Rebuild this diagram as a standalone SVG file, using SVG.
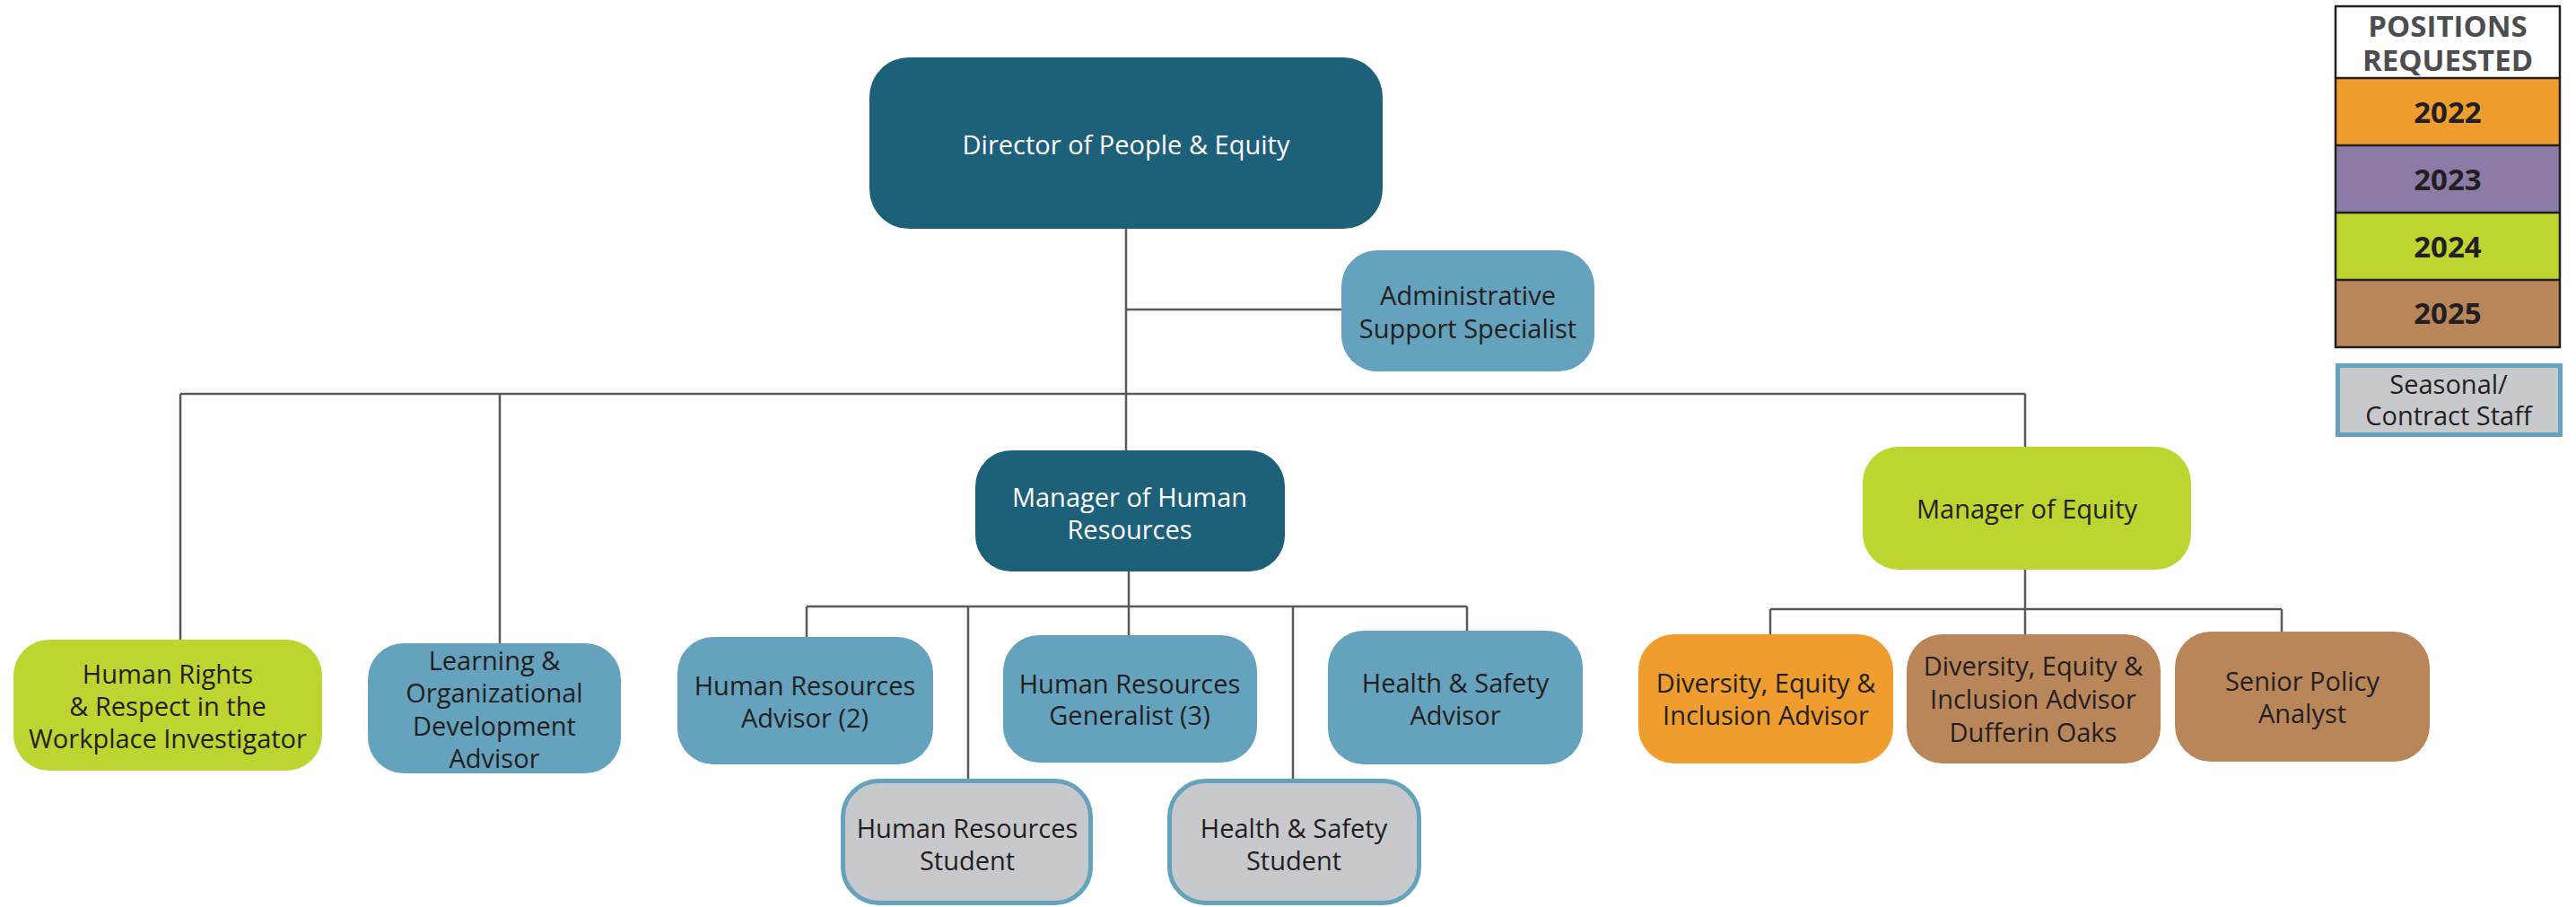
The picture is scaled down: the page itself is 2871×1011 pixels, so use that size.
<svg xmlns="http://www.w3.org/2000/svg" width="2871" height="1011" viewBox="0 0 2871 1011">
<style>
.dark{fill:#1d6079}
.blue{fill:#64a2bd}
.lime{fill:#bed431}
.orange{fill:#ee9d2e}
.purple{fill:#8b7ba6}
.brown{fill:#b9865a}
.gray{fill:#c8c9cc;stroke:#64a2bd;stroke-width:5}
text{font-family:"Open Sans","Noto Sans","Liberation Sans",sans-serif;font-size:29px;fill:#231f20;text-anchor:middle}
.w{fill:#ffffff}
.leg{font-weight:bold;font-size:33px}
.hdr{fill:#4d4d4f}
.conn{fill:none;stroke:#58595b;stroke-width:2.5}
</style>
<rect width="2871" height="1011" fill="#ffffff"/>
<g id="connectors" class="conn">
<path d="M1255 255V502"/>
<path d="M1255 345H1495"/>
<path d="M201 439H2257"/>
<path d="M201 439V713"/>
<path d="M557 439V717"/>
<path d="M2257 439V498"/>
<path d="M1258 637V676"/>
<path d="M899 676H1635"/>
<path d="M899 676V710"/>
<path d="M1079 676V868"/>
<path d="M1258 676V708"/>
<path d="M1441 676V868"/>
<path d="M1635 676V703"/>
<path d="M2257 635V679"/>
<path d="M1973 679H2543"/>
<path d="M1973 679V707"/>
<path d="M2257 679V707"/>
<path d="M2543 679V704"/>
</g>
<g id="director">
<rect class="dark" x="969" y="64" width="572" height="191" rx="44"/>
<text class="w" x="1255" y="172" font-size="30">Director of People &amp; Equity</text>
</g>
<g id="admin">
<rect class="blue" x="1495" y="279" width="282" height="135" rx="40"/>
<text x="1636" y="340">Administrative</text>
<text x="1636" y="377">Support Specialist</text>
</g>
<g id="human-rights">
<rect class="lime" x="15" y="713" width="344" height="146" rx="40"/>
<text x="187" y="762">Human Rights</text>
<text x="187" y="798">&amp; Respect in the</text>
<text x="187" y="834">Workplace Investigator</text>
</g>
<g id="learning">
<rect class="blue" x="410" y="717" width="282" height="145" rx="40"/>
<text x="551" y="747">Learning &amp;</text>
<text x="551" y="783">Organizational</text>
<text x="551" y="820">Development</text>
<text x="551" y="856">Advisor</text>
</g>
<g id="manager-hr">
<rect class="dark" x="1087" y="502" width="345" height="135" rx="40"/>
<text class="w" x="1259" y="565">Manager of Human</text>
<text class="w" x="1259" y="601">Resources</text>
</g>
<g id="manager-equity">
<rect class="lime" x="2076" y="498" width="366" height="137" rx="40"/>
<text x="2259" y="578">Manager of Equity</text>
</g>
<g id="hr-advisor">
<rect class="blue" x="755" y="710" width="285" height="142" rx="40"/>
<text x="897" y="775">Human Resources</text>
<text x="897" y="811">Advisor (2)</text>
</g>
<g id="hr-generalist">
<rect class="blue" x="1118" y="708" width="283" height="142" rx="40"/>
<text x="1259" y="773">Human Resources</text>
<text x="1259" y="808">Generalist (3)</text>
</g>
<g id="hs-advisor">
<rect class="blue" x="1480" y="703" width="284" height="149" rx="40"/>
<text x="1622" y="772">Health &amp; Safety</text>
<text x="1622" y="808">Advisor</text>
</g>
<g id="hr-student">
<rect class="gray" x="939.5" y="870.5" width="276" height="136" rx="40"/>
<text x="1078" y="934">Human Resources</text>
<text x="1078" y="970">Student</text>
</g>
<g id="hs-student">
<rect class="gray" x="1303.5" y="870.5" width="278" height="136" rx="40"/>
<text x="1442" y="934">Health &amp; Safety</text>
<text x="1442" y="970">Student</text>
</g>
<g id="dei-advisor">
<rect class="orange" x="1826" y="707" width="284" height="144" rx="40"/>
<text x="1968" y="772">Diversity, Equity &amp;</text>
<text x="1968" y="808">Inclusion Advisor</text>
</g>
<g id="dei-dufferin">
<rect class="brown" x="2125" y="707" width="283" height="144" rx="40"/>
<text x="2266" y="753">Diversity, Equity &amp;</text>
<text x="2266" y="790">Inclusion Advisor</text>
<text x="2266" y="827">Dufferin Oaks</text>
</g>
<g id="senior-policy">
<rect class="brown" x="2424" y="704" width="284" height="145" rx="40"/>
<text x="2566" y="770">Senior Policy</text>
<text x="2566" y="806">Analyst</text>
</g>
<g id="legend">
<rect x="2603" y="7" width="250" height="80" fill="#ffffff"/>
<rect class="orange" x="2603" y="87" width="250" height="75"/>
<rect class="purple" x="2603" y="162" width="250" height="75"/>
<rect class="lime" x="2603" y="237" width="250" height="75"/>
<rect class="brown" x="2603" y="312" width="250" height="75"/>
<g fill="none" stroke="#231f20" stroke-width="2.5">
<rect x="2603" y="7" width="250" height="380"/>
<path d="M2603 87H2853M2603 162H2853M2603 237H2853M2603 312H2853"/>
</g>
<text class="leg hdr" x="2728" y="41" font-size="28">POSITIONS</text>
<text class="leg hdr" x="2728" y="79" font-size="28">REQUESTED</text>
<text class="leg" x="2728" y="137">2022</text>
<text class="leg" x="2728" y="212">2023</text>
<text class="leg" x="2728" y="287">2024</text>
<text class="leg" x="2728" y="361">2025</text>
<rect class="gray" x="2605.5" y="407.5" width="248" height="77"/>
<text x="2729" y="439" font-size="27">Seasonal/</text>
<text x="2729" y="474" font-size="27">Contract Staff</text>
</g>
</svg>
